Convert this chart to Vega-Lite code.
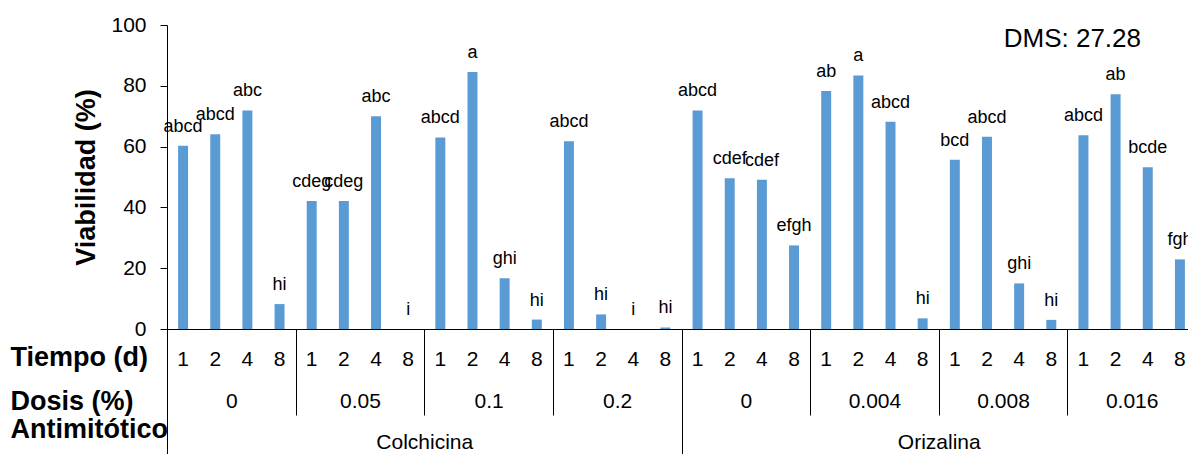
{
  "$schema": "https://vega.github.io/schema/vega-lite/v6.json",
  "autosize": "none",
  "width": 1021,
  "height": 304,
  "padding": {"left": 167, "top": 25, "right": 0, "bottom": 125},
  "background": "white",
  "config": {"view": {"stroke": null}, "font": "Liberation Sans"},
  "title": {"text": "DMS: 27.28", "anchor": "end", "frame": "group", "orient": "top", "offset": -21, "baseline": "alphabetic", "dx": -47, "dy": 38, "fontSize": 26, "fontWeight": "normal", "font": "Liberation Sans", "color": "black"},
  "data": {"values": [
    {"k": "Colchicina|0|1", "g": "Colchicina|0", "anti": "Colchicina", "v": 60.3, "letra": "abcd"},
    {"k": "Colchicina|0|2", "g": "Colchicina|0", "anti": "Colchicina", "v": 64.1, "letra": "abcd"},
    {"k": "Colchicina|0|4", "g": "Colchicina|0", "anti": "Colchicina", "v": 71.9, "letra": "abc"},
    {"k": "Colchicina|0|8", "g": "Colchicina|0", "anti": "Colchicina", "v": 8.2, "letra": "hi"},
    {"k": "Colchicina|0.05|1", "g": "Colchicina|0.05", "anti": "Colchicina", "v": 42.1, "letra": "cdeg"},
    {"k": "Colchicina|0.05|2", "g": "Colchicina|0.05", "anti": "Colchicina", "v": 42.1, "letra": "cdeg"},
    {"k": "Colchicina|0.05|4", "g": "Colchicina|0.05", "anti": "Colchicina", "v": 70.0, "letra": "abc"},
    {"k": "Colchicina|0.05|8", "g": "Colchicina|0.05", "anti": "Colchicina", "v": 0, "letra": "i"},
    {"k": "Colchicina|0.1|1", "g": "Colchicina|0.1", "anti": "Colchicina", "v": 63.0, "letra": "abcd"},
    {"k": "Colchicina|0.1|2", "g": "Colchicina|0.1", "anti": "Colchicina", "v": 84.5, "letra": "a"},
    {"k": "Colchicina|0.1|4", "g": "Colchicina|0.1", "anti": "Colchicina", "v": 16.7, "letra": "ghi"},
    {"k": "Colchicina|0.1|8", "g": "Colchicina|0.1", "anti": "Colchicina", "v": 3.1, "letra": "hi"},
    {"k": "Colchicina|0.2|1", "g": "Colchicina|0.2", "anti": "Colchicina", "v": 61.8, "letra": "abcd"},
    {"k": "Colchicina|0.2|2", "g": "Colchicina|0.2", "anti": "Colchicina", "v": 4.8, "letra": "hi"},
    {"k": "Colchicina|0.2|4", "g": "Colchicina|0.2", "anti": "Colchicina", "v": 0, "letra": "i"},
    {"k": "Colchicina|0.2|8", "g": "Colchicina|0.2", "anti": "Colchicina", "v": 0.5, "letra": "hi"},
    {"k": "Orizalina|0|1", "g": "Orizalina|0", "anti": "Orizalina", "v": 71.9, "letra": "abcd"},
    {"k": "Orizalina|0|2", "g": "Orizalina|0", "anti": "Orizalina", "v": 49.6, "letra": "cdef"},
    {"k": "Orizalina|0|4", "g": "Orizalina|0", "anti": "Orizalina", "v": 49.1, "letra": "cdef"},
    {"k": "Orizalina|0|8", "g": "Orizalina|0", "anti": "Orizalina", "v": 27.5, "letra": "efgh"},
    {"k": "Orizalina|0.004|1", "g": "Orizalina|0.004", "anti": "Orizalina", "v": 78.3, "letra": "ab"},
    {"k": "Orizalina|0.004|2", "g": "Orizalina|0.004", "anti": "Orizalina", "v": 83.4, "letra": "a"},
    {"k": "Orizalina|0.004|4", "g": "Orizalina|0.004", "anti": "Orizalina", "v": 68.2, "letra": "abcd"},
    {"k": "Orizalina|0.004|8", "g": "Orizalina|0.004", "anti": "Orizalina", "v": 3.5, "letra": "hi"},
    {"k": "Orizalina|0.008|1", "g": "Orizalina|0.008", "anti": "Orizalina", "v": 55.7, "letra": "bcd"},
    {"k": "Orizalina|0.008|2", "g": "Orizalina|0.008", "anti": "Orizalina", "v": 63.2, "letra": "abcd"},
    {"k": "Orizalina|0.008|4", "g": "Orizalina|0.008", "anti": "Orizalina", "v": 15.0, "letra": "ghi"},
    {"k": "Orizalina|0.008|8", "g": "Orizalina|0.008", "anti": "Orizalina", "v": 3.0, "letra": "hi"},
    {"k": "Orizalina|0.016|1", "g": "Orizalina|0.016", "anti": "Orizalina", "v": 63.7, "letra": "abcd"},
    {"k": "Orizalina|0.016|2", "g": "Orizalina|0.016", "anti": "Orizalina", "v": 77.2, "letra": "ab"},
    {"k": "Orizalina|0.016|4", "g": "Orizalina|0.016", "anti": "Orizalina", "v": 53.2, "letra": "bcde"},
    {"k": "Orizalina|0.016|8", "g": "Orizalina|0.016", "anti": "Orizalina", "v": 22.9, "letra": "fgh"}
  ]},
  "resolve": {"scale": {"x": "independent"}, "axis": {"x": "independent"}},
  "layer": [
    {
      "mark": {"type": "bar", "color": "#5B9BD5"},
      "encoding": {
        "x": {"field": "k", "type": "nominal", "sort": null,
          "scale": {"range": [0, 1029], "paddingInner": 0.69, "paddingOuter": 0.345},
          "axis": {"orient": "bottom", "title": "Tiempo (d)", "ticks": false, "labelExpr": "split(datum.value, '|')[2]",
            "labelFont": "Liberation Sans", "labelFontSize": 21, "labelColor": "black", "labelPadding": 30, "labelBaseline": "middle", "labelAngle": 0, "labelOverlap": false,
            "domainColor": "black", "domainWidth": 1,
            "titleFont": "Liberation Sans", "titleFontSize": 27, "titleFontWeight": "bold", "titleColor": "black",
            "titleX": -157, "titleY": 28, "titleAlign": "left", "titleBaseline": "middle", "titleAngle": 0}},
        "y": {"field": "v", "type": "quantitative",
          "scale": {"domain": [0, 100], "nice": false},
          "axis": {"values": [0, 20, 40, 60, 80, 100], "grid": false, "domainColor": "black", "tickColor": "black", "tickSize": 7, "labelPadding": 14,
            "labelFont": "Liberation Sans", "labelFontSize": 21, "labelColor": "black",
            "title": "Viabilidad (%)", "titleFont": "Liberation Sans", "titleFontSize": 27, "titleFontWeight": "bold", "titleColor": "black",
            "titleX": -81, "titleY": 152, "titleAngle": -90, "titleAlign": "center", "titleBaseline": "middle"}}
      }
    },
    {
      "mark": {"type": "text", "font": "Liberation Sans", "fontSize": 18, "color": "black", "baseline": "alphabetic", "dy": -14},
      "encoding": {
        "x": {"field": "k", "type": "nominal", "sort": null,
          "scale": {"range": [0, 1029], "paddingInner": 0.69, "paddingOuter": 0.345}, "axis": null},
        "y": {"field": "v", "type": "quantitative", "scale": {"domain": [0, 100], "nice": false}},
        "text": {"field": "letra"}
      }
    },
    {
      "mark": {"type": "point", "opacity": 0},
      "encoding": {
        "x": {"field": "g", "type": "nominal", "sort": null,
          "scale": {"range": [0, 1029], "paddingInner": 0, "paddingOuter": 0},
          "axis": {"orient": "bottom", "title": "Dosis (%)", "domain": false, "ticks": true, "tickBand": "extent", "tickSize": 86, "tickColor": "black", "tickWidth": 1,
            "labelExpr": "split(datum.value, '|')[1]", "labelFont": "Liberation Sans", "labelFontSize": 21, "labelColor": "black", "labelPadding": -14, "labelBaseline": "middle", "labelAngle": 0, "labelOverlap": false,
            "titleFont": "Liberation Sans", "titleFontSize": 27, "titleFontWeight": "bold", "titleColor": "black",
            "titleX": -157, "titleY": 72, "titleAlign": "left", "titleBaseline": "middle", "titleAngle": 0}}
      }
    },
    {
      "mark": {"type": "point", "opacity": 0},
      "encoding": {
        "x": {"field": "anti", "type": "nominal", "sort": null,
          "scale": {"range": [0, 1029], "paddingInner": 0, "paddingOuter": 0},
          "axis": {"orient": "bottom", "title": "Antimitótico", "domain": false, "ticks": true, "tickBand": "extent", "tickSize": 125, "tickColor": "black", "tickWidth": 1,
            "labelFont": "Liberation Sans", "labelFontSize": 21, "labelColor": "black", "labelPadding": -12, "labelBaseline": "middle", "labelAngle": 0, "labelOverlap": false,
            "titleFont": "Liberation Sans", "titleFontSize": 27, "titleFontWeight": "bold", "titleColor": "black",
            "titleX": -157, "titleY": 100, "titleAlign": "left", "titleBaseline": "middle", "titleAngle": 0}}
      }
    }
  ]
}
